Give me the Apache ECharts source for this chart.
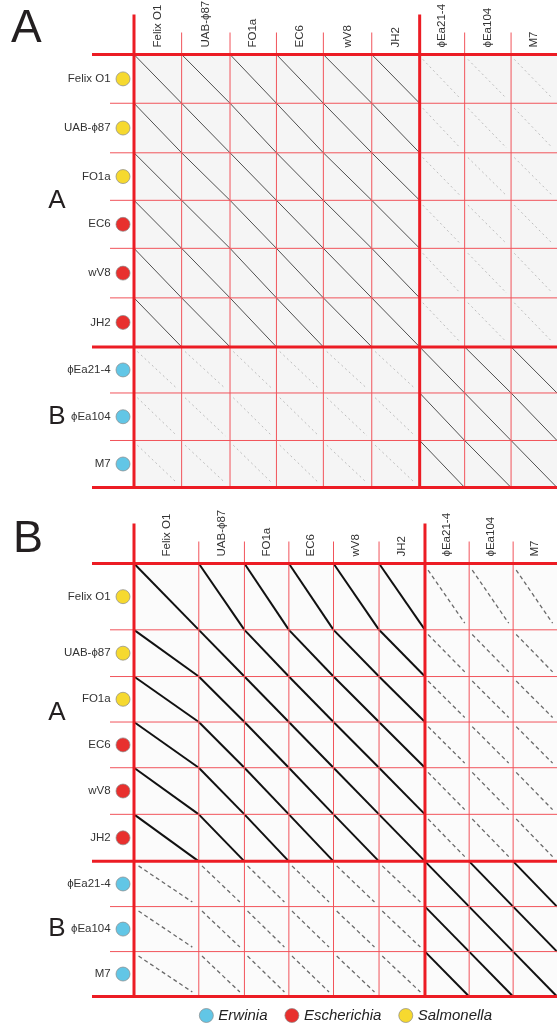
<!DOCTYPE html>
<html>
<head>
<meta charset="utf-8">
<script src="https://cdn.jsdelivr.net/npm/echarts@6/dist/echarts.min.js"></script>
<style>
html, body { margin: 0; padding: 0; background: #fff; }
#main { width: 557px; height: 1027px; }
</style>
</head>
<body>
<div id="main"></div>
<script>
// phage genomes, host genus and cluster
var phages = ['Felix O1', 'UAB-\u03d587', 'FO1a', 'EC6', 'wV8', 'JH2', '\u03d5Ea21-4', '\u03d5Ea104', 'M7'];
var genus = ['Salmonella', 'Salmonella', 'Salmonella', 'Escherichia', 'Escherichia', 'Escherichia', 'Erwinia', 'Erwinia', 'Erwinia'];
var cluster = ['A', 'A', 'A', 'A', 'A', 'A', 'B', 'B', 'B'];
var genera = ['Erwinia', 'Escherichia', 'Salmonella'];
// span of each genome on the dot plot axes (kb)
var spanA = [86.6, 88.0, 84.4, 85.3, 88.0, 87.1, 81.8, 84.4, 83.5];
var spanB = [125.1, 88.1, 85.8, 86.2, 87.9, 88.7, 85.3, 84.9, 84.7];

var FONT = '"Liberation Sans", Arial, sans-serif';
var genusColor = { Erwinia: '#62c6e6', Escherichia: '#e8302e', Salmonella: '#f6d92f' };

function cumul(arr) {
    var e = [0];
    for (var i = 0; i < arr.length; i++) e.push(e[i] + arr[i]);
    return e;
}

var panels = [
    { spans: spanA, top: 54.5, bg: '#f5f5f5',
      same: { stroke: '#505050', lineWidth: 1 },
      cross: { stroke: '#bdbdbd', lineWidth: 1, lineDash: [2, 3] } },
    { spans: spanB, top: 563.5, bg: '#fbfbfb',
      same: { stroke: '#111', lineWidth: 2 },
      cross: { stroke: '#6a6a6a', lineWidth: 1.3, lineDash: [4, 3] } }
];

var grids = [], xAxes = [], yAxes = [], series = [];

panels.forEach(function (p, gi) {
    var edges = cumul(p.spans);
    var total = edges[edges.length - 1];
    grids.push({ left: 134, top: p.top, width: 433, height: 433, show: true,
        backgroundColor: p.bg, borderWidth: 0 });
    xAxes.push({ gridIndex: gi, type: 'value', min: 0, max: total, show: false });
    yAxes.push({ gridIndex: gi, type: 'value', min: 0, max: total, inverse: true, show: false });

    // diagonals of each pairwise comparison
    var pairs = [];
    for (var r = 0; r < phages.length; r++)
        for (var c = 0; c < phages.length; c++) pairs.push([c, r]);
    series.push({
        type: 'custom', xAxisIndex: gi, yAxisIndex: gi, silent: true, z: 2,
        data: pairs,
        renderItem: function (params, api) {
            var c = api.value(0), r = api.value(1);
            var x0 = edges[c], x1 = edges[c + 1], y0 = edges[r], y1 = edges[r + 1];
            var a, b, st;
            if (cluster[c] === cluster[r]) {
                a = api.coord([x0, y0]); b = api.coord([x1, y1]); st = p.same;
            } else {
                a = api.coord([x0 + 0.07 * (x1 - x0), y0 + 0.1 * (y1 - y0)]);
                b = api.coord([x0 + 0.9 * (x1 - x0), y0 + 0.9 * (y1 - y0)]);
                st = p.cross;
            }
            return { type: 'line', shape: { x1: a[0], y1: a[1], x2: b[0], y2: b[1] },
                style: { stroke: st.stroke, lineWidth: st.lineWidth, lineDash: st.lineDash || null } };
        }
    });

    // red frame lines at genome boundaries
    var frame = [];
    for (var i = 0; i < edges.length; i++) {
        var major = (i === 0 || i === edges.length - 1 || cluster[i] !== cluster[i - 1]) ? 1 : 0;
        if (i < edges.length - 1) frame.push([0, edges[i], major]);
        frame.push([1, edges[i], major]);
    }
    series.push({
        type: 'custom', xAxisIndex: gi, yAxisIndex: gi, silent: true, z: 3,
        data: frame,
        renderItem: function (params, api) {
            var orient = api.value(0), at = api.value(1), major = api.value(2);
            var a, b;
            if (orient === 0) {
                a = api.coord([at, 0]); b = api.coord([at, total]);
                a[1] -= major ? 40 : 22;
            } else {
                a = api.coord([0, at]); b = api.coord([total, at]);
                a[0] -= major ? 42 : 24;
            }
            return { type: 'line', z2: major ? 2 : 1,
                shape: { x1: a[0], y1: a[1], x2: b[0], y2: b[1] },
                style: { stroke: major ? '#ec1c24' : '#f1545b', lineWidth: major ? 3 : 1 } };
        }
    });

    // column labels
    series.push({
        type: 'custom', xAxisIndex: gi, yAxisIndex: gi, silent: true, z: 4,
        data: phages.map(function (n, i) { return [(edges[i] + edges[i + 1]) / 2, i]; }),
        renderItem: function (params, api) {
            var pt = api.coord([api.value(0), 0]);
            return { type: 'text', x: pt[0], y: pt[1] - 7, rotation: Math.PI / 2,
                style: { text: phages[api.value(1)], textAlign: 'left', textVerticalAlign: 'middle',
                    font: '11.5px ' + FONT, fill: '#333' } };
        }
    });

    // cluster letters on the left
    var groups = ['A', 'B'].map(function (g) {
        var lo = Infinity, hi = -Infinity;
        cluster.forEach(function (k, i) {
            if (k === g) { lo = Math.min(lo, edges[i]); hi = Math.max(hi, edges[i + 1]); }
        });
        return [(lo + hi) / 2, g === 'A' ? 0 : 1];
    });
    series.push({
        type: 'custom', xAxisIndex: gi, yAxisIndex: gi, silent: true, z: 4,
        data: groups,
        renderItem: function (params, api) {
            var pt = api.coord([0, api.value(0)]);
            return { type: 'text', x: pt[0] - 77, y: pt[1],
                style: { text: api.value(1) === 0 ? 'A' : 'B', textAlign: 'center', textVerticalAlign: 'middle',
                    font: '26px ' + FONT, fill: '#231f20' } };
        }
    });

    // row labels with host dots
    genera.forEach(function (g) {
        var pts = [];
        phages.forEach(function (n, i) {
            if (genus[i] === g) pts.push({ name: n, value: [0, (edges[i] + edges[i + 1]) / 2] });
        });
        series.push({
            name: g, type: 'scatter', xAxisIndex: gi, yAxisIndex: gi, clip: false, silent: true, z: 5,
            symbol: 'circle', symbolSize: 14, symbolOffset: [-11, 0],
            itemStyle: { color: genusColor[g], borderColor: '#8a8a8a', borderWidth: 0.7, opacity: 1 },
            label: { show: true, position: 'left', distance: 5, formatter: '{b}',
                fontFamily: FONT, fontSize: 11.5, color: '#333' },
            data: pts
        });
    });
});

var chart = echarts.init(document.getElementById('main'));
chart.setOption({
    animation: false,
    backgroundColor: '#fff',
    title: [
        { text: 'A', left: 11, top: 6, padding: 0,
          textStyle: { fontFamily: FONT, fontSize: 46, fontWeight: 'normal', color: '#231f20' } },
        { text: 'B', left: 13, top: 517, padding: 0,
          textStyle: { fontFamily: FONT, fontSize: 45, fontWeight: 'normal', color: '#231f20' } }
    ],
    legend: {
        data: genera, left: 199, top: 1008, icon: 'circle', itemWidth: 14, itemHeight: 14,
        itemGap: 17, selectedMode: false, padding: 0,
        itemStyle: { borderColor: '#8a8a8a', borderWidth: 0.7 },
        textStyle: { fontFamily: FONT, fontSize: 15, fontStyle: 'italic', color: '#222' }
    },
    grid: grids,
    xAxis: xAxes,
    yAxis: yAxes,
    series: series
});
</script>
</body>
</html>
